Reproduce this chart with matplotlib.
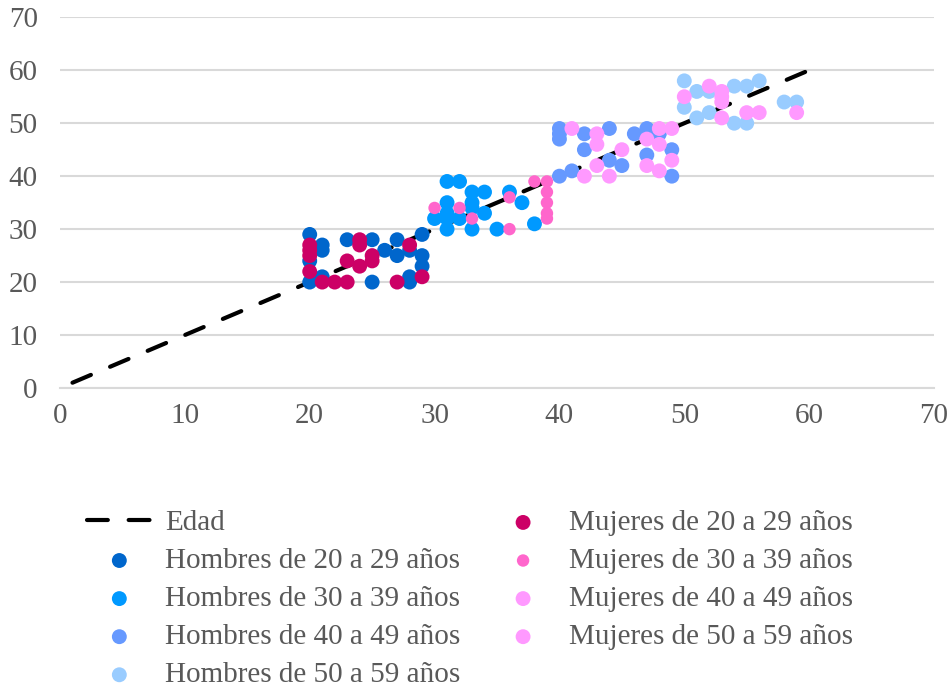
import matplotlib
matplotlib.use("Agg")
import matplotlib.pyplot as plt
from matplotlib.lines import Line2D

# Reference line: age against age
edad_x = list(range(1, 61))
edad_y = list(range(1, 61))

# Men by age group
h20_x = [20, 20, 20, 21, 21, 21, 23, 25, 25, 26, 27, 27, 28, 28, 28, 29, 29, 29]
h20_y = [29, 24, 20, 27, 26, 21, 28, 28, 20, 26, 28, 25, 26, 21, 20, 29, 25, 23]

h30_x = [31, 32, 33, 34, 36, 31, 33, 33, 30, 31, 31, 31, 34, 33, 35, 37, 38, 32]
h30_y = [39, 39, 37, 37, 37, 35, 35, 34, 32, 33, 32, 30, 33, 30, 30, 35, 31, 32]

h40_x = [40, 40, 40, 42, 44, 42, 46, 47, 48, 47, 49, 44, 45, 40, 41, 49]
h40_y = [49, 48, 47, 48, 49, 45, 48, 49, 48, 44, 45, 43, 42, 40, 41, 40]

h50_x = [50, 51, 52, 50, 51, 52, 54, 55, 56, 54, 55, 58, 59]
h50_y = [58, 56, 56, 53, 51, 52, 57, 57, 58, 50, 50, 54, 54]

# Women by age group
m20_x = [20, 20, 20, 20, 21, 22, 23, 23, 24, 24, 24, 25, 25, 27, 28, 29]
m20_y = [27, 26, 25, 22, 20, 20, 20, 24, 28, 27, 23, 24, 25, 20, 27, 21]

m30_x = [30, 32, 33, 36, 36, 38, 39, 39, 39, 39, 39]
m30_y = [34, 34, 32, 30, 36, 39, 39, 37, 35, 33, 32]

m40_x = [41, 43, 43, 45, 43, 42, 44, 47, 48, 49, 48, 49, 47, 48]
m40_y = [49, 48, 46, 45, 42, 40, 40, 47, 46, 49, 49, 43, 42, 41]

m50_x = [50, 52, 53, 53, 53, 53, 55, 56, 59]
m50_y = [55, 57, 56, 55, 54, 51, 52, 52, 52]

axis_ticks = [0, 10, 20, 30, 40, 50, 60, 70]

plt.rcParams["font.family"] = ["Liberation Serif", "DejaVu Serif"]
TEXT = "#595959"
FS = 21

fig = plt.figure(figsize=(9.53, 6.89), dpi=100)
ax = fig.add_axes([60 / 953, 1 - 388 / 689, (934 - 60) / 953, (388 - 17.3) / 689])

ax.plot(edad_x, edad_y, color="black", lw=3, linestyle=(0, (4.8, 5.0)),
        dash_capstyle="round", solid_capstyle="round", zorder=2, label="Edad")

series = [
    (h20_x, h20_y, "#0066CC", 115, "Hombres de 20 a 29 años"),
    (h30_x, h30_y, "#0099FF", 115, "Hombres de 30 a 39 años"),
    (h40_x, h40_y, "#6699FF", 115, "Hombres de 40 a 49 años"),
    (h50_x, h50_y, "#99CCFF", 115, "Hombres de 50 a 59 años"),
    (m20_x, m20_y, "#CC0066", 115, "Mujeres de 20 a 29 años"),
    (m30_x, m30_y, "#FF66CC", 80, "Mujeres de 30 a 39 años"),
    (m40_x, m40_y, "#FF99FF", 115, "Mujeres de 40 a 49 años"),
    (m50_x, m50_y, "#FF99FF", 115, "Mujeres de 50 a 59 años"),
]
for xs, ys, c, s, lab in series:
    ax.scatter(xs, ys, s=s, color=c, edgecolors="none", zorder=3, label=lab)

ax.set_xlim(0, 70)
ax.set_ylim(0, 70)
ax.set_xticks(axis_ticks)
ax.set_yticks(axis_ticks)
ax.grid(axis="y", color="#D9D9D9", lw=1.5)
ax.set_axisbelow(True)
for sp in ["top", "right", "left"]:
    ax.spines[sp].set_visible(False)
ax.spines["bottom"].set_color("#D9D9D9")
ax.spines["bottom"].set_linewidth(1.5)
ax.tick_params(length=0, labelsize=FS, labelcolor=TEXT)
ax.tick_params(axis="x", pad=11)
ax.tick_params(axis="y", pad=16)

handles, labels = ax.get_legend_handles_labels()
handles[0] = Line2D([], [], color="black", lw=3, linestyle=(0, (5.0, 5.0)),
                    dash_capstyle="round")
leg = fig.legend(handles, labels, ncol=2, loc="upper left",
                 bbox_to_anchor=(75 / 953, 1 - 498 / 689), frameon=False,
                 fontsize=FS, labelcolor=TEXT, handlelength=2.24,
                 handletextpad=0.45, labelspacing=0.4, columnspacing=1.03,
                 borderaxespad=0, markerscale=1.0)

fig.savefig("out.png", dpi=100)
